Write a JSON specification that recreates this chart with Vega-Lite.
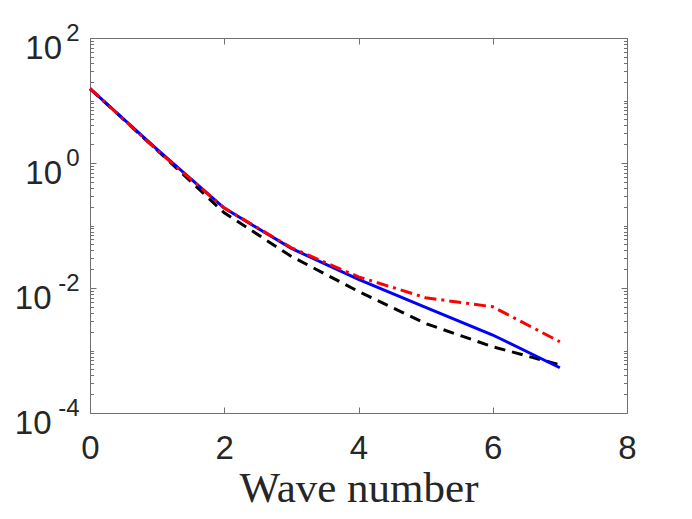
{
  "$schema": "https://vega.github.io/schema/vega-lite/v6.json",
  "autosize": "none",
  "padding": {"left": 90, "top": 38, "right": 65, "bottom": 106},
  "width": 537,
  "height": 375,
  "background": "white",
  "data": {
    "values": [
      {"k": 0, "series": "black", "value": 15.5},
      {"k": 1, "series": "black", "value": 1.6},
      {"k": 2, "series": "black", "value": 0.16},
      {"k": 3, "series": "black", "value": 0.032},
      {"k": 4, "series": "black", "value": 0.0088},
      {"k": 5, "series": "black", "value": 0.0027},
      {"k": 6, "series": "black", "value": 0.00115},
      {"k": 7, "series": "black", "value": 0.00059},
      {"k": 0, "series": "blue", "value": 15.5},
      {"k": 1, "series": "blue", "value": 1.65},
      {"k": 2, "series": "blue", "value": 0.19},
      {"k": 3, "series": "blue", "value": 0.043},
      {"k": 4, "series": "blue", "value": 0.0137},
      {"k": 5, "series": "blue", "value": 0.0049},
      {"k": 6, "series": "blue", "value": 0.00177},
      {"k": 7, "series": "blue", "value": 0.00053},
      {"k": 0, "series": "red", "value": 15.5},
      {"k": 1, "series": "red", "value": 1.6},
      {"k": 2, "series": "red", "value": 0.19},
      {"k": 3, "series": "red", "value": 0.044},
      {"k": 4, "series": "red", "value": 0.0151},
      {"k": 5, "series": "red", "value": 0.007},
      {"k": 6, "series": "red", "value": 0.005},
      {"k": 7, "series": "red", "value": 0.00138}
    ]
  },
  "config": {
    "view": {"stroke": null},
    "axis": {
      "grid": false,
      "domainColor": "#707070",
      "domainWidth": 1,
      "tickColor": "#707070",
      "tickWidth": 1,
      "labelFont": "Liberation Sans",
      "labelColor": "#262626",
      "labelFontSize": 33,
      "labelOverlap": false,
      "labelBound": false,
      "labelFlush": false
    }
  },
  "resolve": {"axis": {"x": "independent", "y": "independent"}},
  "layer": [
    {
      "transform": [{"filter": "datum.series === 'black'"}],
      "mark": {"type": "line", "color": "#000000", "strokeWidth": 3, "strokeDash": [11, 7], "strokeCap": "butt"},
      "encoding": {
        "x": {
          "field": "k", "type": "quantitative",
          "scale": {"domain": [0, 8], "nice": false},
          "axis": {
            "orient": "bottom", "values": [0, 2, 4, 6, 8], "ticks": false,
            "labelPadding": 19, "title": "Wave number",
            "titleFont": "Liberation Serif", "titleFontSize": 43, "titleFontWeight": "normal",
            "titleColor": "#262626", "titlePadding": 2
          }
        },
        "y": {
          "field": "value", "type": "quantitative",
          "scale": {"type": "log", "domain": [0.0001, 100], "nice": false},
          "axis": {
            "orient": "left", "values": [0.0001, 0.01, 1, 100], "ticks": false,
            "labelExpr": "'10'", "labelBaseline": "alphabetic", "labelOffset": 20,
            "labelPadding": {"condition": {"test": "datum.value < 0.5", "value": 39}, "value": 28.5},
            "title": null
          }
        }
      }
    },
    {
      "transform": [{"filter": "datum.series === 'blue'"}],
      "mark": {"type": "line", "color": "#0000ff", "strokeWidth": 3},
      "encoding": {
        "x": {
          "field": "k", "type": "quantitative",
          "axis": {"orient": "top", "values": [0, 2, 4, 6, 8], "tickSize": -6, "labels": false, "title": null}
        },
        "y": {
          "field": "value", "type": "quantitative",
          "axis": {
            "orient": "left", "values": [0.0001, 0.01, 1, 100], "ticks": false, "domain": false,
            "labelExpr": "datum.value == 100 ? '2' : datum.value == 1 ? '0' : datum.value == 0.01 ? '-2' : '-4'",
            "labelFontSize": 24, "labelBaseline": "alphabetic", "labelOffset": 2, "labelPadding": 11,
            "title": null
          }
        }
      }
    },
    {
      "transform": [{"filter": "datum.series === 'red'"}],
      "mark": {"type": "line", "color": "#ff0000", "strokeWidth": 3, "strokeDash": [12, 5, 3, 5], "strokeCap": "butt"},
      "encoding": {
        "x": {
          "field": "k", "type": "quantitative",
          "axis": {"orient": "bottom", "values": [0, 2, 4, 6, 8], "tickSize": -6, "labels": false, "domain": false, "title": null}
        },
        "y": {
          "field": "value", "type": "quantitative",
          "axis": {
            "orient": "right", "labels": false, "title": null,
            "values": [0.0001, 0.0002, 0.0003, 0.0004, 0.0005, 0.0006, 0.0007, 0.0008, 0.0009, 0.001, 0.002, 0.003, 0.004, 0.005, 0.006, 0.007, 0.008, 0.009, 0.01, 0.02, 0.03, 0.04, 0.05, 0.06, 0.07, 0.08, 0.09, 0.1, 0.2, 0.3, 0.4, 0.5, 0.6, 0.7, 0.8, 0.9, 1, 2, 3, 4, 5, 6, 7, 8, 9, 10, 20, 30, 40, 50, 60, 70, 80, 90, 100],
            "tickSize": {"condition": {"test": "indexof([0.0001, 0.01, 1, 100], datum.value) >= 0", "value": -6}, "value": -3.5}
          }
        }
      }
    },
    {
      "mark": {"type": "line", "strokeOpacity": 0},
      "encoding": {
        "detail": {"field": "series"},
        "x": {"field": "k", "type": "quantitative", "axis": null},
        "y": {
          "field": "value", "type": "quantitative",
          "axis": {
            "orient": "left", "labels": false, "domain": false, "title": null,
            "values": [0.0001, 0.0002, 0.0003, 0.0004, 0.0005, 0.0006, 0.0007, 0.0008, 0.0009, 0.001, 0.002, 0.003, 0.004, 0.005, 0.006, 0.007, 0.008, 0.009, 0.01, 0.02, 0.03, 0.04, 0.05, 0.06, 0.07, 0.08, 0.09, 0.1, 0.2, 0.3, 0.4, 0.5, 0.6, 0.7, 0.8, 0.9, 1, 2, 3, 4, 5, 6, 7, 8, 9, 10, 20, 30, 40, 50, 60, 70, 80, 90, 100],
            "tickSize": {"condition": {"test": "indexof([0.0001, 0.01, 1, 100], datum.value) >= 0", "value": -6}, "value": -3.5}
          }
        }
      }
    }
  ]
}
